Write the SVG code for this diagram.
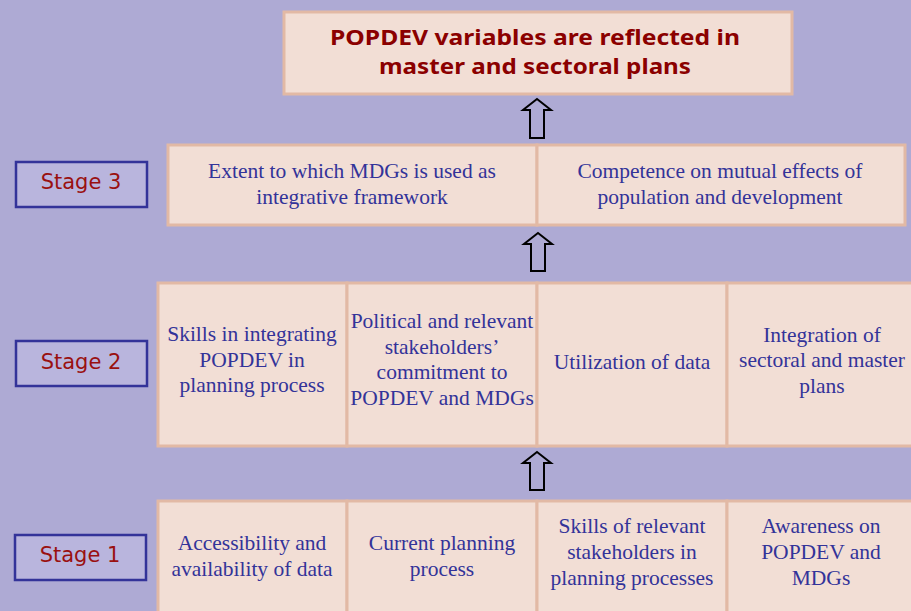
<svg xmlns="http://www.w3.org/2000/svg" width="911" height="611" viewBox="0 0 911 611">
<style>
.bg{fill:#aeaad4}
.box{fill:#f2ded5;stroke:#e2b9a5;stroke-width:3}
.stage{fill:#b9b5dd;stroke:#333399;stroke-width:2.5}
.stxt{font-family:"DejaVu Sans",Verdana,sans-serif;font-size:21px;fill:#9a1010;text-anchor:middle}
.ntxt{font-family:"Liberation Serif","Times New Roman",serif;font-size:21.5px;fill:#333399;text-anchor:middle}
.ttxt{font-family:"Noto Sans","DejaVu Sans",sans-serif;font-weight:bold;font-size:22px;fill:#8b0000;text-anchor:middle}
.arr{fill:none;stroke:#000;stroke-width:2;stroke-linejoin:miter}
</style>
<rect class="bg" x="0" y="0" width="911" height="611"/>

<g id="goal">
<rect class="box" x="284" y="12" width="508" height="82"/>
<text class="ttxt" x="535" y="45" textLength="410" lengthAdjust="spacingAndGlyphs">POPDEV variables are reflected in</text>
<text class="ttxt" x="535" y="74" textLength="312" lengthAdjust="spacingAndGlyphs">master and sectoral plans</text>
</g>

<g id="stage3-label">
<rect class="stage" x="16" y="162" width="131" height="45"/>
<text class="stxt" x="81" y="189">Stage 3</text>
</g>
<g id="stage2-label">
<rect class="stage" x="16" y="341" width="131" height="45"/>
<text class="stxt" x="81" y="369">Stage 2</text>
</g>
<g id="stage1-label">
<rect class="stage" x="15" y="535" width="131" height="45"/>
<text class="stxt" x="80" y="562">Stage 1</text>
</g>

<g id="s3-mdgs">
<rect class="box" x="168" y="145" width="369" height="80"/>
<text class="ntxt" x="352" y="178">Extent to which MDGs is used as</text>
<text class="ntxt" x="352" y="204">integrative framework</text>
</g>
<g id="s3-competence">
<rect class="box" x="537" y="145" width="368" height="80"/>
<text class="ntxt" x="720" y="178">Competence on mutual effects of</text>
<text class="ntxt" x="720" y="204">population and development</text>
</g>

<g id="s2-skills">
<rect class="box" x="158" y="283" width="189" height="163"/>
<text class="ntxt" x="252" y="341">Skills in integrating</text>
<text class="ntxt" x="252" y="367">POPDEV in</text>
<text class="ntxt" x="252" y="392">planning process</text>
</g>
<g id="s2-political">
<rect class="box" x="347" y="283" width="190" height="163"/>
<text class="ntxt" x="442" y="328">Political and relevant</text>
<text class="ntxt" x="442" y="354">stakeholders’</text>
<text class="ntxt" x="442" y="379">commitment to</text>
<text class="ntxt" x="442" y="405">POPDEV and MDGs</text>
</g>
<g id="s2-utilization">
<rect class="box" x="537" y="283" width="190" height="163"/>
<text class="ntxt" x="632" y="369">Utilization of data</text>
</g>
<g id="s2-integration">
<rect class="box" x="727" y="283" width="190" height="163"/>
<text class="ntxt" x="822" y="342">Integration of</text>
<text class="ntxt" x="822" y="367">sectoral and master</text>
<text class="ntxt" x="822" y="393">plans</text>
</g>

<g id="s1-access">
<rect class="box" x="158" y="501" width="189" height="120"/>
<text class="ntxt" x="252" y="550">Accessibility and</text>
<text class="ntxt" x="252" y="576">availability of data</text>
</g>
<g id="s1-current">
<rect class="box" x="347" y="501" width="190" height="120"/>
<text class="ntxt" x="442" y="550">Current planning</text>
<text class="ntxt" x="442" y="576">process</text>
</g>
<g id="s1-skills">
<rect class="box" x="537" y="501" width="190" height="120"/>
<text class="ntxt" x="632" y="533">Skills of relevant</text>
<text class="ntxt" x="632" y="559">stakeholders in</text>
<text class="ntxt" x="632" y="585">planning processes</text>
</g>
<g id="s1-awareness">
<rect class="box" x="727" y="501" width="190" height="120"/>
<text class="ntxt" x="821" y="533">Awareness on</text>
<text class="ntxt" x="821" y="559">POPDEV and</text>
<text class="ntxt" x="821" y="585">MDGs</text>
</g>

<g id="connectors">
<polygon class="arr" points="537,99 551,110 544,110 544,138 530,138 530,110 523,110"/>
<polygon class="arr" points="538,233 552,244 545,244 545,271 531,271 531,244 524,244"/>
<polygon class="arr" points="537,452 551,463 544,463 544,490 530,490 530,463 523,463"/>
</g>
</svg>
